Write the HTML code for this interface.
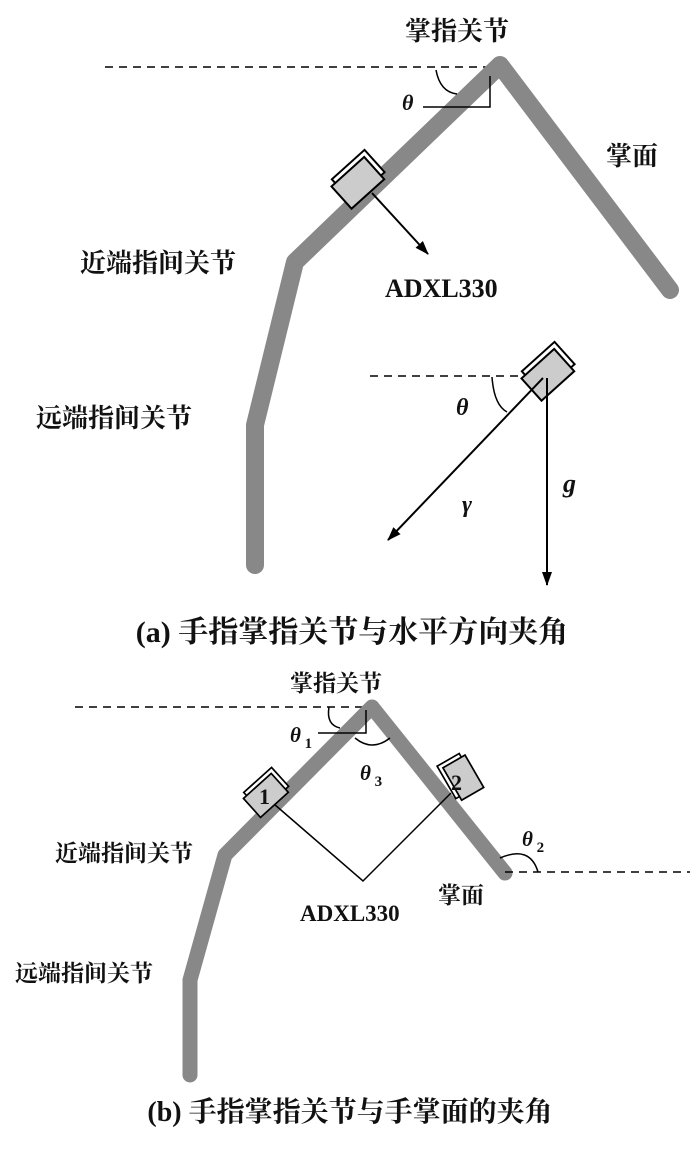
<!DOCTYPE html>
<html><head><meta charset="utf-8"><style>
body{margin:0;background:#fff}
svg text{font-family:"Liberation Serif","Noto Serif CJK SC",serif;font-weight:bold;fill:#111}
</style></head><body>
<svg width="700" height="1147" viewBox="0 0 700 1147" xmlns="http://www.w3.org/2000/svg">
<defs>
<marker id="ar" markerWidth="14" markerHeight="12" refX="13" refY="6" orient="auto" markerUnits="userSpaceOnUse"><path d="M0,1 L14,6 L0,11 Z" fill="#000"/></marker>
<g id="sen">
<rect x="-19" y="-18" width="44" height="30" fill="#fff" stroke="#000" stroke-width="2"/>
<rect x="-24" y="-13" width="44" height="30" fill="#ccc" stroke="#000" stroke-width="2"/>
</g>
</defs>
<!-- (a) -->
<line x1="105" y1="67" x2="500" y2="67" stroke="#000" stroke-width="1.5" stroke-dasharray="8,6"/>
<polyline points="255,565 255,425 295,262 500,65 670,290" fill="none" stroke="#888" stroke-width="18" stroke-linejoin="round" stroke-linecap="round"/>
<path d="M436,70 Q440,92 457,94" fill="none" stroke="#000" stroke-width="1.5"/>
<polyline points="490,76 490,107 423,107" fill="none" stroke="#000" stroke-width="1.5"/>
<text x="402" y="110" font-size="22" font-style="italic">θ</text>
<line x1="372" y1="193" x2="428" y2="254" stroke="#000" stroke-width="2" marker-end="url(#ar)"/>
<use href="#sen" transform="translate(358,180) rotate(-42)"/>
<text x="405" y="40" font-size="26">掌指关节</text>
<text x="606" y="165" font-size="26">掌面</text>
<text x="80" y="272" font-size="26">近端指间关节</text>
<text x="385" y="297" font-size="26">ADXL330</text>
<text x="36" y="427" font-size="26">远端指间关节</text>
<line x1="370" y1="376" x2="545" y2="376" stroke="#000" stroke-width="1.5" stroke-dasharray="8,6"/>
<use href="#sen" transform="translate(548,372) rotate(-42)"/>
<line x1="543" y1="378" x2="388" y2="540" stroke="#000" stroke-width="2" marker-end="url(#ar)"/>
<line x1="547" y1="378" x2="547" y2="585" stroke="#000" stroke-width="2" marker-end="url(#ar)"/>
<path d="M492,377 Q494,405 507,412" fill="none" stroke="#000" stroke-width="1.5"/>
<text x="456" y="415" font-size="24" font-style="italic">θ</text>
<text x="462" y="512" font-size="24" font-style="italic">γ</text>
<text x="563" y="492" font-size="26" font-style="italic">g</text>
<text x="352" y="642" font-size="30" text-anchor="middle">(a) 手指掌指关节与水平方向夹角</text>
<!-- (b) -->
<line x1="75" y1="707" x2="372" y2="707" stroke="#000" stroke-width="1.5" stroke-dasharray="8,6"/>
<polyline points="190,1075 190,980 225,855 372,707 505,873" fill="none" stroke="#888" stroke-width="15" stroke-linejoin="round" stroke-linecap="round"/>
<line x1="505" y1="872" x2="690" y2="872" stroke="#000" stroke-width="1.5" stroke-dasharray="8,6"/>
<path d="M329,707 Q326,725 340,728" fill="none" stroke="#000" stroke-width="1.5"/>
<polyline points="366,710 366,733 318,733" fill="none" stroke="#000" stroke-width="1.5"/>
<path d="M355,738 Q372,752 390,738" fill="none" stroke="#000" stroke-width="1.5"/>
<path d="M500,858 Q530,845 538,872" fill="none" stroke="#000" stroke-width="1.5"/>
<polyline points="274,804 363,881 451,793" fill="none" stroke="#000" stroke-width="1.5"/>
<use href="#sen" transform="translate(266,793) rotate(-42) scale(0.85)"/>
<use href="#sen" transform="translate(461,777) rotate(-120) scale(0.85)"/>
<text x="259" y="804" font-size="22">1</text>
<text x="451" y="790" font-size="22">2</text>
<text x="290" y="742" font-size="21" font-style="italic">θ<tspan font-size="15" dy="6" font-style="normal"> 1</tspan></text>
<text x="360" y="780" font-size="21" font-style="italic">θ<tspan font-size="15" dy="6" font-style="normal"> 3</tspan></text>
<text x="522" y="846" font-size="21" font-style="italic">θ<tspan font-size="15" dy="6" font-style="normal"> 2</tspan></text>
<text x="290" y="691" font-size="23">掌指关节</text>
<text x="438" y="903" font-size="23">掌面</text>
<text x="55" y="861" font-size="23">近端指间关节</text>
<text x="300" y="921" font-size="23">ADXL330</text>
<text x="15" y="981" font-size="23">远端指间关节</text>
<text x="350" y="1121" font-size="28" text-anchor="middle">(b) 手指掌指关节与手掌面的夹角</text>
</svg>
</body></html>
